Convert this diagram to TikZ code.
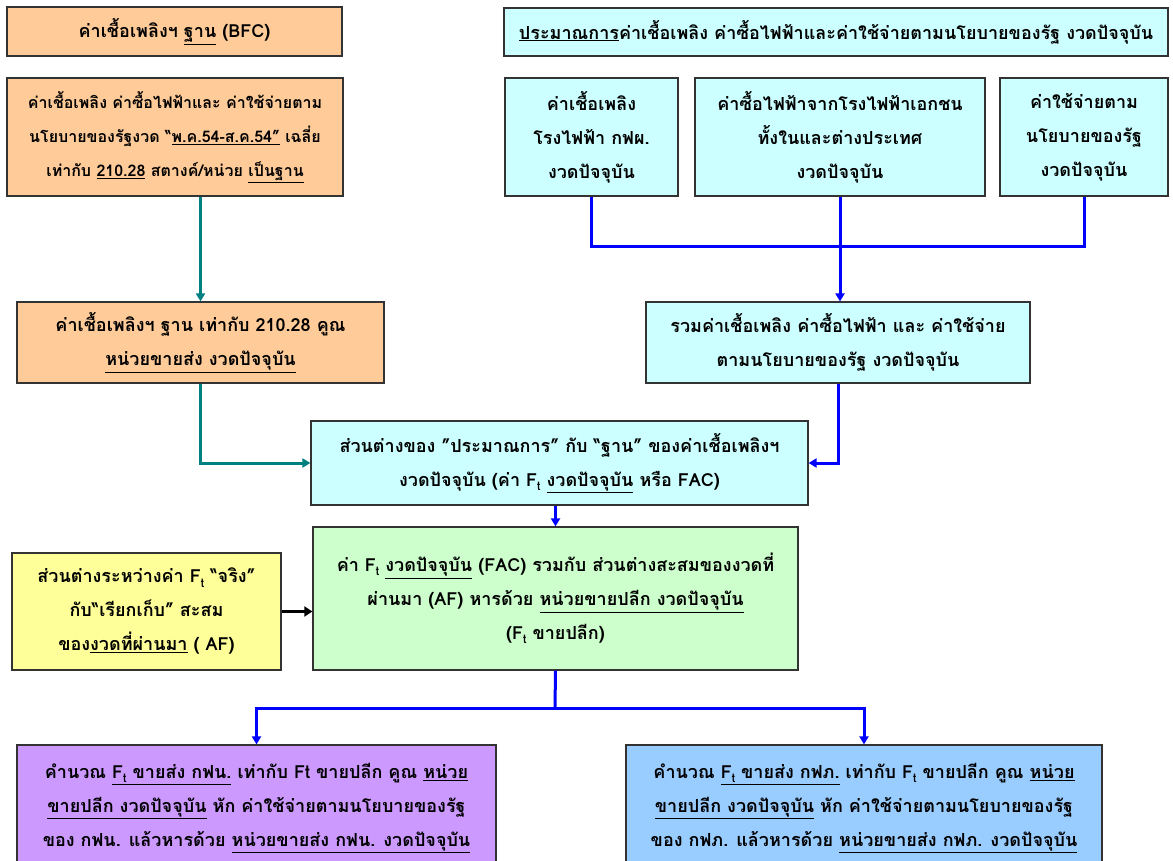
\documentclass[tikz,border=0pt]{standalone}
\usepackage{fontspec}
\newfontfamily\thaifont[Script=Thai]{Loma}
\usetikzlibrary{arrows.meta}
\definecolor{orangebox}{HTML}{FFCC99}
\definecolor{cyanbox}{HTML}{CCFFFF}
\definecolor{greenbox}{HTML}{CCFFCC}
\definecolor{yellowbox}{HTML}{FFFF99}
\definecolor{purplebox}{HTML}{CC99FF}
\definecolor{bluebox}{HTML}{99CCFF}
\definecolor{tealline}{HTML}{008080}
\newcommand{\Ft}{F\raisebox{-0.45ex}{\fontsize{12}{12}\selectfont t}}
\begin{document}
\begin{tikzpicture}[x=1pt,y=-1pt,
    box/.style={draw=black!80, line width=1.2pt, align=center, inner sep=2pt,
      font=\thaifont\bfseries\fontsize{18}{34}\selectfont},
    teal arrow/.style={draw=tealline, line width=3pt, -{Triangle[width=9pt,length=8pt]}},
    blue line/.style={draw=blue, line width=3pt},
    blue arrow/.style={blue line, -{Triangle[width=9pt,length=8pt]}}]
  \useasboundingbox (0,0) rectangle (1173,861);
  \node at (174.5,31.5) [box, fill=orangebox, minimum width=335pt, minimum height=49pt] (bfc)
    {ค่าเชื้อเพลิงฯ \underline{ฐาน} (BFC)};
  \node at (175,137) [box, fill=orangebox, minimum width=336pt, minimum height=118pt,
      font=\thaifont\bfseries\fontsize{16}{34}\selectfont] (base)
    {ค่าเชื้อเพลิง ค่าซื้อไฟฟ้าและ ค่าใช้จ่ายตาม\\
     นโยบายของรัฐงวด “\underline{พ.ค.54-ส.ค.54”} เฉลี่ย\\
     เท่ากับ \underline{210.28} สตางค์/หน่วย \underline{เป็นฐาน}};
  \node at (836,32) [box, fill=cyanbox, minimum width=664pt, minimum height=48pt] (est)
    {\underline{ประมาณการ}ค่าเชื้อเพลิง ค่าซื้อไฟฟ้าและค่าใช้จ่ายตามนโยบายของรัฐ งวดปัจจุบัน};
  \node at (591.5,137) [box, fill=cyanbox, minimum width=173pt, minimum height=118pt] (fuel)
    {ค่าเชื้อเพลิง\\โรงไฟฟ้า กฟผ.\\งวดปัจจุบัน};
  \node at (840,137) [box, fill=cyanbox, minimum width=290pt, minimum height=118pt] (buy)
    {ค่าซื้อไฟฟ้าจากโรงไฟฟ้าเอกชน\\ทั้งในและต่างประเทศ\\งวดปัจจุบัน};
  \node at (1084,137) [box, fill=cyanbox, minimum width=168pt, minimum height=118pt] (pol)
    {ค่าใช้จ่ายตาม\\นโยบายของรัฐ\\งวดปัจจุบัน};
  \node at (200.5,342.5) [box, fill=orangebox, minimum width=367pt, minimum height=81pt] (basect)
    {ค่าเชื้อเพลิงฯ ฐาน เท่ากับ 210.28 คูณ\\\underline{หน่วยขายส่ง งวดปัจจุบัน}};
  \node at (838,342.5) [box, fill=cyanbox, minimum width=384pt, minimum height=81pt] (sum)
    {รวมค่าเชื้อเพลิง ค่าซื้อไฟฟ้า และ ค่าใช้จ่าย\\ตามนโยบายของรัฐ งวดปัจจุบัน};
  \node at (559.5,463) [box, fill=cyanbox, minimum width=497pt, minimum height=84pt] (fac)
    {ส่วนต่างของ ”ประมาณการ” กับ “ฐาน” ของค่าเชื้อเพลิงฯ\\
     งวดปัจจุบัน (ค่า \Ft{} \underline{งวดปัจจุบัน} หรือ FAC)};
  \node at (146.5,611.5) [box, fill=yellowbox, minimum width=269pt, minimum height=117pt] (af)
    {ส่วนต่างระหว่างค่า \Ft{} “จริง”\\กับ“เรียกเก็บ” สะสม\\ของ\underline{งวดที่ผ่านมา} ( AF)};
  \node at (555.5,598.5) [box, fill=greenbox, minimum width=485pt, minimum height=143pt] (ret)
    {ค่า \Ft{} \underline{งวดปัจจุบัน} (FAC) รวมกับ ส่วนต่างสะสมของงวดที่\\
     ผ่านมา (AF) หารด้วย \underline{หน่วยขายปลีก งวดปัจจุบัน}\\(\Ft{} ขายปลีก)};
  \node at (256.5,808) [box, fill=purplebox, minimum width=479pt, minimum height=126pt] (mea)
    {คำนวณ \underline{\Ft{} ขายส่ง กฟน.} เท่ากับ Ft ขายปลีก คูณ \underline{หน่วย}\\
     \underline{ขายปลีก งวดปัจจุบัน} หัก ค่าใช้จ่ายตามนโยบายของรัฐ\\
     ของ กฟน. แล้วหารด้วย \underline{หน่วยขายส่ง กฟน. งวดปัจจุบัน}};
  \node at (864,808) [box, fill=bluebox, minimum width=476pt, minimum height=126pt] (pea)
    {คำนวณ \underline{\Ft{} ขายส่ง กฟภ.} เท่ากับ \Ft{} ขายปลีก คูณ \underline{หน่วย}\\
     \underline{ขายปลีก งวดปัจจุบัน} หัก ค่าใช้จ่ายตามนโยบายของรัฐ\\
     ของ กฟภ. แล้วหารด้วย \underline{หน่วยขายส่ง กฟภ. งวดปัจจุบัน}};
  \coordinate (join) at (838,247);
  \coordinate (split) at (555,708);
  \draw[teal arrow] (base.south -| basect.north) -- (basect.north);
  \draw[teal arrow] (basect.south) |- (fac.west);
  \draw[blue line] (fuel.south) |- (join) -| (pol.south);
  \draw[blue arrow] (buy.south) -- (buy.south |- sum.north);
  \draw[blue arrow] (sum.south) |- (fac.east);
  \draw[blue arrow] (fac.south -| ret.north) -- (ret.north);
  \draw[line width=3.5pt, -{Triangle[width=10pt,length=8pt]}] (af.east) -- (af.east -| ret.west);
  \draw[blue line] (ret.south) -- (split);
  \draw[blue arrow] (split) -| (mea.north);
  \draw[blue arrow] (split) -| (pea.north);
\end{tikzpicture}
\end{document}
